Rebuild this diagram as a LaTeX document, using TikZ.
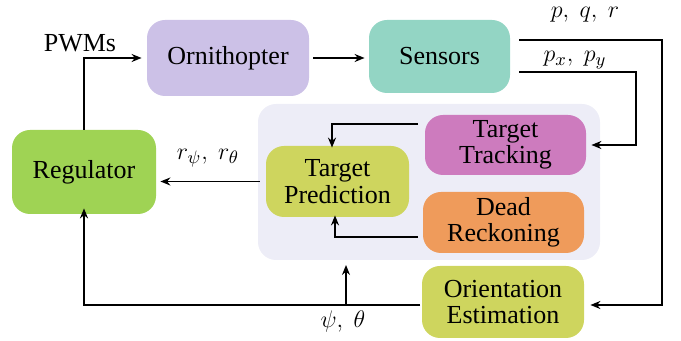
\documentclass[tikz,border=0pt]{standalone}
\usepackage{fontspec}
\setmainfont{Liberation Serif}
\usetikzlibrary{arrows.meta,calc}
\definecolor{cOrn}{HTML}{CCC1E7}
\definecolor{cSen}{HTML}{93D5C4}
\definecolor{cReg}{HTML}{9FD354}
\definecolor{cPan}{HTML}{EDEDF7}
\definecolor{cTrk}{HTML}{CD7BBE}
\definecolor{cPre}{HTML}{CED55E}
\definecolor{cDed}{HTML}{EF9B5B}
\begin{document}
\begin{tikzpicture}[x=0.5pt,y=-0.5pt,
  box/.style={rounded corners=9pt,inner sep=0pt,align=center,font=\fontsize{13}{13.2}\selectfont},
  arr/.style={-{Stealth[length=5pt,width=4pt]},line width=0.8pt},
  ln/.style={line width=0.8pt},
  lab/.style={font=\fontsize{13}{14}\selectfont}]
\useasboundingbox (0,0) rectangle (681,341);
\fill[cPan,rounded corners=9pt] (258,104) rectangle (600,260);
\node[box,fill=cOrn,minimum width=81pt,minimum height=38pt] (orn) at (228,58) {Ornithopter};
\node[box,fill=cSen,minimum width=70.5pt,minimum height=36.5pt] (sen) at (439.5,56.5) {Sensors};
\node[box,fill=cReg,minimum width=72pt,minimum height=42pt] (reg) at (84,172) {Regulator};
\node[box,fill=cTrk,minimum width=80.5pt,minimum height=30pt] (trk) at (505.5,145) {Target\\Tracking};
\node[box,fill=cPre,minimum width=71.5pt,minimum height=35.5pt] (pre) at (337.5,181.5) {Target\\Prediction};
\node[box,fill=cDed,minimum width=80.5pt,minimum height=30.5pt] (ded) at (503.5,222.5) {Dead\\Reckoning};
\node[box,fill=cPre,minimum width=81pt,minimum height=36pt] (ori) at (503,302) {Orientation\\Estimation};
% coordinates
\coordinate (s1) at (519,40);
\coordinate (s2) at (519,72);
\coordinate (t1) at (418,124);
\coordinate (d1) at (418,237);
\coordinate (o1) at (420,305);
\coordinate (br) at (346,305);
\coordinate (pb) at (346,265);
% connectors
\draw[arr] (reg.north) |- ([xshift=-2.5pt]orn.west);
\draw[arr] ([xshift=2pt]orn.east) -- ([xshift=-2pt]orn.east -| sen.west);
\draw[arr] (s1) -- (662,40) |- ([xshift=3pt]ori.east |- o1);
\draw[arr] (s2) -- (636,72) |- ([xshift=2.5pt]trk.east);
\draw[arr] (t1) -| ([yshift=-1pt]pre.north -| 332,0);
\draw[arr] (d1) -| ([yshift=1pt]pre.south -| 335,0);
\draw[arr] ([xshift=-3pt]pre.west) -- ([xshift=2pt]reg.east |- pre.west);
\draw[arr] (o1) -| ([yshift=3pt]reg.south);
\draw[arr] (br) -- (pb);
% labels
\node[lab] (lpwm) at (80,43) {PWMs};
\node[lab] (lpqr) at (585,15) {$p,\ q,\ r$};
\node[lab] (lpxy) at (575,60) {$p_x,\ p_y$};
\node[lab] (lr) at (208,158) {$r_\psi,\ r_\theta$};
\node[lab] (lpt) at (343,322) {$\psi,\ \theta$};
\end{tikzpicture}
\end{document}
